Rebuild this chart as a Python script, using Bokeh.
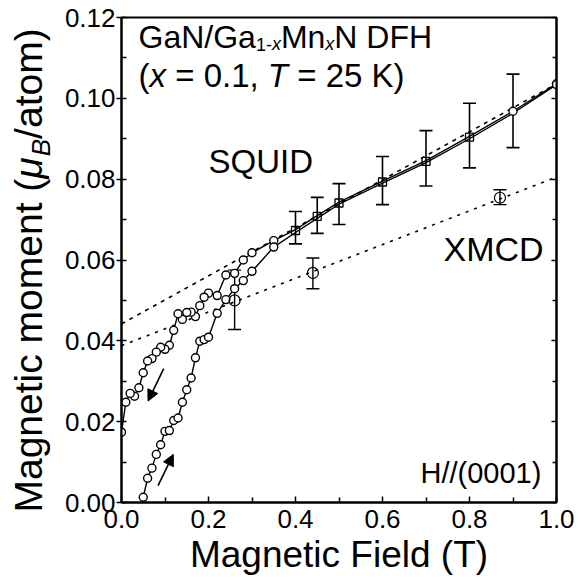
import numpy as np
from bokeh.plotting import figure
from bokeh.layouts import row
from bokeh.core.properties import value
from bokeh.models import (FixedTicker, PrintfTickFormatter, LinearAxis, Arrow,
                          NormalHead, Whisker, ColumnDataSource, TeeHead, Range1d)
from bokeh.embed import file_html
from bokeh.resources import INLINE

FONT = "Liberation Sans"

# ---------------- data ----------------
# SQUID, field decreasing branch
down_field = [1.00, 0.90, 0.80, 0.70, 0.60, 0.50, 0.45, 0.40, 0.35, 0.30, 0.28, 0.26, 0.24,
              0.22, 0.20, 0.19, 0.18, 0.17, 0.16, 0.15, 0.14, 0.13, 0.12, 0.11, 0.10, 0.09,
              0.08, 0.07, 0.06, 0.05, 0.04, 0.03, 0.02, 0.01, 0.00]
down_moment = [0.1036, 0.0968, 0.0906, 0.0846, 0.0795, 0.0743, 0.0710, 0.0675, 0.0648, 0.0618,
               0.0600, 0.0567, 0.0563, 0.0512, 0.0518, 0.0508, 0.0487, 0.0460, 0.0471, 0.0470,
               0.0453, 0.0467, 0.0426, 0.0389, 0.0379, 0.0384, 0.0372, 0.0356, 0.0350, 0.0321,
               0.0284, 0.0263, 0.0270, 0.0248, 0.0174]
# SQUID, field increasing branch
up_field = [0.05, 0.06, 0.07, 0.08, 0.09, 0.10, 0.11, 0.12, 0.13, 0.14, 0.15, 0.16, 0.17,
            0.18, 0.19, 0.20, 0.22, 0.24, 0.26, 0.28, 0.30, 0.35, 0.40, 0.45, 0.50, 0.60,
            0.70, 0.80, 0.90, 1.00]
up_moment = [0.0013, 0.0060, 0.0085, 0.0119, 0.0143, 0.0176, 0.0178, 0.0203, 0.0209, 0.0248,
             0.0279, 0.0308, 0.0358, 0.0399, 0.0403, 0.0409, 0.0468, 0.0502, 0.0529, 0.0549,
             0.0572, 0.0632, 0.0668, 0.0703, 0.0738, 0.0790, 0.0841, 0.0900, 0.0963, 0.1034]
# SQUID points with error bars
err_field = [0.40, 0.45, 0.50, 0.60, 0.70, 0.80, 0.90]
err_moment = [0.0673, 0.0708, 0.0741, 0.0793, 0.0844, 0.0904, 0.0968]
err_upper = [0.0720, 0.0755, 0.0789, 0.0856, 0.0920, 0.0988, 0.1060]
err_lower = [0.0640, 0.0666, 0.0688, 0.0737, 0.0783, 0.0828, 0.0878]
# XMCD
xmcd_field = [0.26, 0.44, 0.87]
xmcd_moment = [0.0500, 0.0568, 0.0754]
xmcd_upper = [0.0575, 0.0605, 0.0774]
xmcd_lower = [0.0428, 0.0529, 0.0737]
# linear fits
squid_fit_field = [0.0, 1.0]
squid_fit_moment = [0.0442, 0.1036]
xmcd_fit_field = [0.0, 1.0]
xmcd_fit_moment = [0.0388, 0.0805]
# ticks
x_ticks = [0.0, 0.2, 0.4, 0.6, 0.8, 1.0]
x_minor = [0.1, 0.3, 0.5, 0.7, 0.9]
y_ticks = [0.00, 0.02, 0.04, 0.06, 0.08, 0.10, 0.12]
y_minor = [0.01, 0.03, 0.05, 0.07, 0.09, 0.11]
# sweep-direction arrows: (x_start, y_start, x_end, y_end)
arrow_down = [0.097, 0.0331, 0.061, 0.0251]
arrow_up = [0.084, 0.0042, 0.119, 0.0119]

# ---------------- layout ----------------
W, H = 580, 588
STRIP = 60                      # left strip that holds the y-axis title
L_, R_, T_, B_ = 121, 24, 17, 86  # frame borders in page pixels
FW, FH = W - L_ - R_, H - T_ - B_
X0, X1, Y0, Y1 = 0.0, 1.0, 0.0, 0.12
MID = 0.3465   # distance (in em) from baseline to the middle of the text box


def px2x(px):
    return X0 + (px - L_) * (X1 - X0) / FW


def py2y(py):
    return Y0 + (T_ + FH - py) * (Y1 - Y0) / FH


p = figure(width=W - STRIP, height=H, output_backend="svg", toolbar_location=None,
           x_range=Range1d(X0, X1), y_range=Range1d(Y0, Y1),
           min_border_left=L_ - STRIP, min_border_right=R_, min_border_top=T_,
           min_border_bottom=B_)
p.background_fill_color = "white"
p.border_fill_color = "white"
p.grid.visible = False
p.outline_line_color = "black"
p.outline_line_width = 2

for ax in (p.xaxis[0], p.yaxis[0]):
    ax.axis_line_width = 2
    ax.major_tick_line_width = 1.5
    ax.minor_tick_line_width = 1.5
    ax.major_label_text_font = FONT
    ax.major_label_text_font_size = "26px"
    ax.major_label_text_color = "black"

p.xaxis[0].ticker = FixedTicker(ticks=x_ticks, minor_ticks=x_minor)
p.xaxis[0].formatter = PrintfTickFormatter(format="%.1f")
p.xaxis[0].major_tick_in = 6
p.xaxis[0].major_tick_out = 0
p.xaxis[0].minor_tick_in = 5
p.xaxis[0].minor_tick_out = 0
p.xaxis[0].major_label_standoff = 7
p.xaxis[0].axis_label = "Magnetic Field (T)"
p.xaxis[0].axis_label_text_font = FONT
p.xaxis[0].axis_label_text_font_size = "37px"
p.xaxis[0].axis_label_text_font_style = "normal"
p.xaxis[0].axis_label_text_color = "black"
p.xaxis[0].axis_label_standoff = 3

p.yaxis[0].ticker = FixedTicker(ticks=y_ticks, minor_ticks=y_minor)
p.yaxis[0].formatter = PrintfTickFormatter(format="%.2f")
p.yaxis[0].major_tick_in = 5
p.yaxis[0].major_tick_out = 5
p.yaxis[0].minor_tick_in = 5
p.yaxis[0].minor_tick_out = 0
p.yaxis[0].major_label_standoff = 1

right = LinearAxis(ticker=FixedTicker(ticks=y_ticks, minor_ticks=y_minor),
                   major_label_text_color=None, major_tick_in=5, major_tick_out=0,
                   minor_tick_in=4, minor_tick_out=0, axis_line_width=2,
                   major_tick_line_width=1.5, minor_tick_line_width=1.5)
p.add_layout(right, "right")

# ---------------- fits ----------------
p.line(squid_fit_field, squid_fit_moment, line_color="black", line_width=1.6, line_dash="4 5")
p.line(xmcd_fit_field, xmcd_fit_moment, line_color="black", line_width=1.6, line_dash="3 6")

# ---------------- SQUID loops ----------------
p.line(down_field, down_moment, line_color="black", line_width=1.4)
p.line(up_field, up_moment, line_color="black", line_width=1.4)

err_set = set(err_field)
for fld, mom in ((down_field, down_moment), (up_field, up_moment)):
    cx = [f for f in fld if f not in err_set]
    cy = [m for f, m in zip(fld, mom) if f not in err_set]
    p.scatter(cx, cy, marker="circle", size=8, fill_color="white",
              line_color="black", line_width=1.4)

# SQUID error bars
src = ColumnDataSource(dict(x=err_field, y=err_moment, u=err_upper, l=err_lower))
p.add_layout(Whisker(source=src, base="x", upper="u", lower="l", line_width=1.6,
                     upper_head=TeeHead(size=13, line_width=1.6),
                     lower_head=TeeHead(size=13, line_width=1.6)))
sq_x = [f for f in err_field if f < 0.85]
sq_y = [m for f, m in zip(err_field, err_moment) if f < 0.85]
ci_x = [f for f in err_field if f >= 0.85]
ci_y = [m for f, m in zip(err_field, err_moment) if f >= 0.85]
p.scatter(sq_x, sq_y, marker="square", size=8, fill_alpha=0.0,
          line_color="black", line_width=1.3)
p.scatter(ci_x, ci_y, marker="circle", size=8, fill_color="white",
          line_color="black", line_width=1.3)

# XMCD
xsrc = ColumnDataSource(dict(x=xmcd_field, y=xmcd_moment, u=xmcd_upper, l=xmcd_lower))
p.add_layout(Whisker(source=xsrc, base="x", upper="u", lower="l", line_width=1.4,
                     upper_head=TeeHead(size=13, line_width=1.4),
                     lower_head=TeeHead(size=13, line_width=1.4)))
p.scatter(xmcd_field, xmcd_moment, marker="circle", size=11, fill_alpha=0.0,
          line_color="black", line_width=1.2)

# arrows
for a in (arrow_down, arrow_up):
    p.add_layout(Arrow(x_start=a[0], y_start=a[1], x_end=a[2], y_end=a[3],
                       line_width=1.6, line_color="black",
                       end=NormalHead(size=11, fill_color="black", line_color="black")))


# ---------------- texts (positions given as page-pixel baselines) ----------------
def txt(fig, conv, text, px, py, size, style="normal", rotated=False, align="left"):
    if rotated:
        x, y = conv(px - MID * size, py)
        ang = np.pi / 2
    else:
        x, y = conv(px, py - MID * size)
        ang = 0.0
    fig.text(x=[x], y=[y], text=[text], text_font=value(FONT),
             text_font_size=f"{size}px", text_font_style=style,
             text_color="black", text_align=align, text_baseline="middle",
             angle=ang)


def main_conv(px, py):
    return px2x(px), py2y(py)


# title line 1: GaN/Ga1-xMnxN DFH
txt(p, main_conv, "GaN/Ga", 138, 48, 32)
txt(p, main_conv, "1-", 255.4, 50, 18)
txt(p, main_conv, "x", 271.4, 50, 18, "italic")
txt(p, main_conv, "Mn", 280.4, 48, 32)
txt(p, main_conv, "x", 324.8, 50, 18, "italic")
txt(p, main_conv, "N DFH", 333.8, 48, 32)
# title line 2: (x = 0.1, T = 25 K)
txt(p, main_conv, "(", 138, 86, 33)
txt(p, main_conv, "x", 149, 86, 33, "italic")
txt(p, main_conv, "= 0.1,", 174.7, 86, 33)
txt(p, main_conv, "T", 267.3, 86, 33, "italic")
txt(p, main_conv, "= 25 K)", 296.7, 86, 33)

txt(p, main_conv, "SQUID", 208, 172, 33)
txt(p, main_conv, "XMCD", 443, 260, 34)
txt(p, main_conv, "H//(0001)", 420, 483, 29)

# ---------------- left strip with the y-axis title ----------------
strip = figure(frame_width=STRIP, frame_height=H, output_backend="svg",
               toolbar_location=None, title=None,
               x_range=Range1d(0, STRIP), y_range=Range1d(0, H),
               min_border=0, x_axis_type=None, y_axis_type=None)
strip.outline_line_color = None
strip.grid.visible = False
strip.background_fill_color = "white"
strip.border_fill_color = "white"


def strip_conv(px, py):
    return px, H - py


txt(strip, strip_conv, "Magnetic moment (", 42, 495, 39, rotated=True)
txt(strip, strip_conv, "\u03bc", 42, 161.2, 39, "italic", rotated=True)
txt(strip, strip_conv, "B", 50, 138.7, 26, "italic", rotated=True)
txt(strip, strip_conv, "/atom)", 42, 121.4, 39, rotated=True)

layout = row(strip, p, spacing=0)
open("out.html", "w").write(file_html(layout, INLINE))
